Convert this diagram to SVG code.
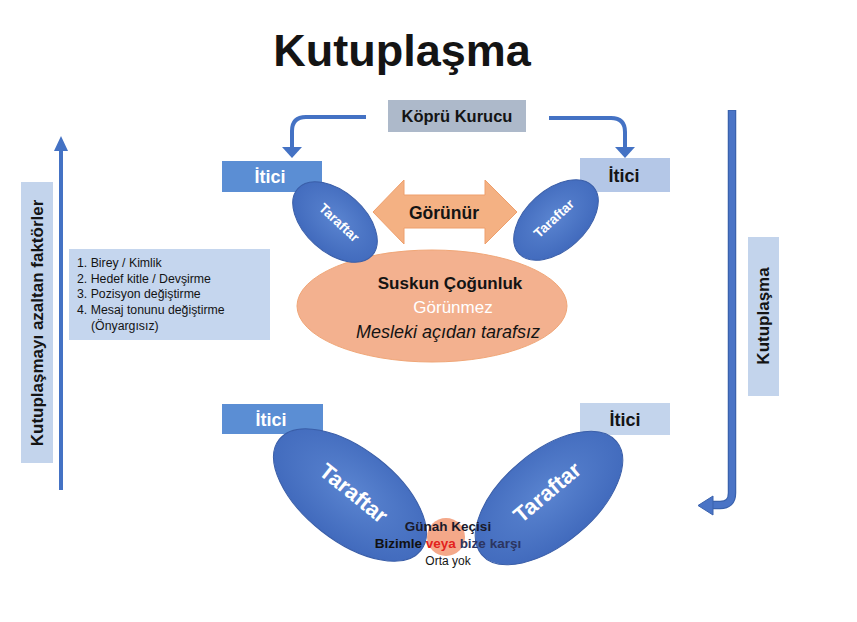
<svg xmlns="http://www.w3.org/2000/svg" width="857" height="622" viewBox="0 0 857 622">
<style>
text{font-family:"Liberation Sans",Arial,sans-serif;}
.b{font-weight:bold;}
.dark{fill:#141414;}
.w{fill:#ffffff;}
.lbl{fill:#c3d4ec;}
.tar{fill:url(#blueg);stroke:#3a5ea8;stroke-width:1;}
.conn{fill:none;stroke:#4472c4;stroke-width:4;}
.head{fill:#4472c4;}
</style>
<defs>
<radialGradient id="blueg" cx="0.5" cy="0.45" r="0.6">
<stop offset="0" stop-color="#5a84d0"/>
<stop offset="1" stop-color="#3f68bb"/>
</radialGradient>
</defs>
<rect width="857" height="622" fill="#ffffff"/>

<g id="title"><text x="402" y="66" text-anchor="middle" class="b dark" font-size="45">Kutuplaşma</text></g>

<g id="connectors">
<path class="conn" d="M366 117 H306 Q292 117 292 131 V148"/>
<polygon class="head" points="282,147 302,147 292,158"/>
<path class="conn" d="M549 118 H611 Q625 118 625 132 V148"/>
<polygon class="head" points="615,147 635,147 625,158"/>
<path class="conn" d="M61 490 V150"/>
<polygon class="head" points="54,151 68,151 61,136"/>
<path fill="none" stroke="#3a62ad" stroke-width="8.5" d="M732 110 V493 Q732 505 720 505 H711"/>
<path fill="none" stroke="#4a74c6" stroke-width="6" d="M732 110.8 V493 Q732 505 720 505 H710"/>
<polygon fill="#4a74c6" stroke="#3a62ad" stroke-width="1" points="713,496 713,515 698,505.5"/>
</g>

<g id="kopru-kurucu">
<rect x="388" y="100" width="138" height="32" fill="#adb9ca"/>
<text x="457" y="122" text-anchor="middle" class="b dark" font-size="16.5">Köprü Kurucu</text>
</g>

<g id="itici-top-left">
<rect x="222" y="161" width="100" height="31" fill="#5b8ed4"/>
<text x="270" y="183" text-anchor="middle" class="b w" font-size="18">İtici</text>
</g>
<g id="itici-top-right">
<rect x="580" y="158" width="90" height="34" fill="#b4c7e7"/>
<text x="624" y="182" text-anchor="middle" class="b dark" font-size="18">İtici</text>
</g>

<g id="suskun-cogunluk">
<ellipse cx="432" cy="306" rx="135" ry="56" fill="#f3b18f" stroke="#f0a677" stroke-width="1"/>
<text x="450" y="289" text-anchor="middle" class="b dark" font-size="17">Suskun Çoğunluk</text>
<text x="453" y="313" text-anchor="middle" class="w" font-size="17">Görünmez</text>
<text x="448" y="338" text-anchor="middle" class="dark" font-size="18" font-style="italic">Mesleki açıdan tarafsız</text>
</g>

<g id="gorunur">
<polygon points="373,212 404,180 404,195 485,195 485,180 517,212 485,244 485,228 404,228 404,244" fill="#f4b183" stroke="#ee9f6c" stroke-width="1"/>
<text x="444" y="219" text-anchor="middle" class="b dark" font-size="17.5">Görünür</text>
</g>

<g id="taraftar-top-left">
<ellipse cx="335" cy="222" rx="50" ry="30" transform="rotate(42 335 222)" class="tar"/>
<text x="0" y="0" text-anchor="middle" class="b w" font-size="13.5" transform="translate(336 226) rotate(43)">Taraftar</text>
</g>
<g id="taraftar-top-right">
<ellipse cx="556" cy="220" rx="50" ry="30" transform="rotate(-42 556 220)" class="tar"/>
<text x="0" y="0" text-anchor="middle" class="b w" font-size="13.5" transform="translate(557 222) rotate(-43)">Taraftar</text>
</g>

<g id="factors-list">
<rect x="69" y="249" width="201" height="91" fill="#c5d6ee"/>
<text class="dark" font-size="12.3">
<tspan x="77" y="267">1. Birey / Kimlik</tspan>
<tspan x="77" y="283">2. Hedef kitle / Devşirme</tspan>
<tspan x="77" y="298">3. Pozisyon değiştirme</tspan>
<tspan x="77" y="314">4. Mesaj tonunu değiştirme</tspan>
<tspan x="91" y="330">(Önyargısız)</tspan>
</text>
</g>

<g id="label-azaltan">
<rect x="21" y="182" width="32" height="281" class="lbl"/>
<text x="0" y="0" text-anchor="middle" class="b dark" font-size="17" transform="translate(43 323) rotate(-90)">Kutuplaşmayı azaltan faktörler</text>
</g>

<g id="label-kutuplasma">
<rect x="748" y="237" width="31" height="159" class="lbl"/>
<text x="0" y="0" text-anchor="middle" class="b dark" font-size="17" transform="translate(769 316) rotate(-90)">Kutuplaşma</text>
</g>

<g id="itici-bottom-left">
<rect x="222" y="404" width="101" height="30" fill="#5b8ed4"/>
<text x="271" y="426" text-anchor="middle" class="b w" font-size="18">İtici</text>
</g>
<g id="itici-bottom-right">
<rect x="580" y="403" width="90" height="32" fill="#c3d4ec"/>
<text x="625" y="426" text-anchor="middle" class="b dark" font-size="18">İtici</text>
</g>

<g id="gunah-kecisi-circle">
<circle cx="446" cy="537" r="19" fill="#f4a889"/>
</g>

<g id="taraftar-bottom-left">
<ellipse cx="350" cy="495" rx="90" ry="46" transform="rotate(38 350 495)" class="tar"/>
<text x="0" y="0" text-anchor="middle" class="b w" font-size="22" transform="translate(349 499) rotate(39)">Taraftar</text>
</g>
<g id="taraftar-bottom-right">
<ellipse cx="549" cy="498" rx="88" ry="46" transform="rotate(-40 549 498)" class="tar"/>
<text x="0" y="0" text-anchor="middle" class="b w" font-size="22" transform="translate(552 498) rotate(-40)">Taraftar</text>
</g>

<g id="gunah-kecisi">
<text x="448" y="531" text-anchor="middle" class="b" fill="#1a1a2a" font-size="13.5">Günah Keçisi</text>
<text x="448" y="548" text-anchor="middle" class="b" font-size="13.5"><tspan fill="#111111">Bizimle  </tspan><tspan fill="#e3221c">veya</tspan><tspan fill="#2c3560"> bize karşı</tspan></text>
<text x="448" y="565" text-anchor="middle" class="dark" font-size="12">Orta yok</text>
</g>
</svg>
